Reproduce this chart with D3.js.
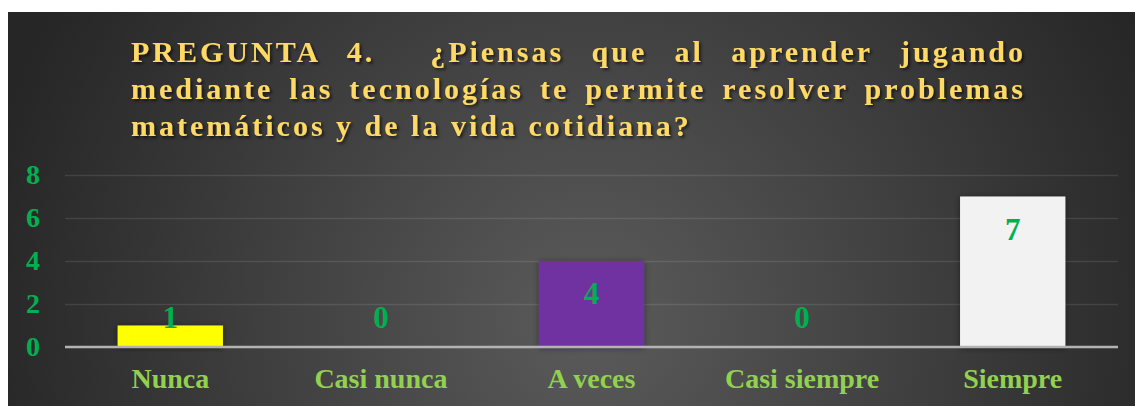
<!DOCTYPE html>
<html>
<head>
<meta charset="utf-8">
<script src="https://cdn.jsdelivr.net/npm/d3@7"></script>
<style>
  html, body { margin: 0; padding: 0; background: #fff; }
  svg { display: block; }
  text { font-family: "Times New Roman", "Liberation Serif", serif; font-weight: bold; }
</style>
</head>
<body>
<div id="chart"></div>
<script>
// ── Datos ──
const categories = ["Nunca", "Casi nunca", "A veces", "Casi siempre", "Siempre"];
const values = [1, 0, 4, 0, 7];
const barColors = ["#ffff00", "#ed7d31", "#7030a0", "#4472c4", "#f2f2f2"];
const yTicks = [0, 2, 4, 6, 8];
const titleLines = [
  "PREGUNTA 4.  ¿Piensas que al aprender jugando",
  "mediante las tecnologías te permite resolver problemas",
  "matemáticos y de la vida cotidiana?"
];

const W = 1135, H = 406;
const svg = d3.select("#chart").append("svg")
  .attr("width", W).attr("height", H);

const defs = svg.append("defs");
const grad = defs.append("radialGradient")
  .attr("id", "bg")
  .attr("gradientUnits", "userSpaceOnUse")
  .attr("cx", 590).attr("cy", 320).attr("r", 620);
grad.append("stop").attr("offset", 0).attr("stop-color", "#5b5b5b");
grad.append("stop").attr("offset", 1).attr("stop-color", "#262626");

const tShadow = defs.append("filter").attr("id", "tshadow")
  .attr("x", "-5%").attr("y", "-20%").attr("width", "110%").attr("height", "150%");
tShadow.append("feDropShadow")
  .attr("dx", 2).attr("dy", 2).attr("stdDeviation", 1.5)
  .attr("flood-color", "#000").attr("flood-opacity", 0.6);

const bShadow = defs.append("filter").attr("id", "bshadow")
  .attr("x", "-20%").attr("y", "-20%").attr("width", "140%").attr("height", "140%");
bShadow.append("feDropShadow")
  .attr("dx", 0).attr("dy", 1).attr("stdDeviation", 3)
  .attr("flood-color", "#000").attr("flood-opacity", 0.45);

// fondo del área del gráfico
svg.append("rect")
  .attr("x", 8).attr("y", 12)
  .attr("width", W - 8).attr("height", H - 12)
  .attr("fill", "url(#bg)");

// ── Escalas ──
const x = d3.scaleBand()
  .domain(categories)
  .range([65, 1118])
  .paddingInner(0.5)
  .paddingOuter(0.25);

const y = d3.scaleLinear()
  .domain([0, 8])
  .range([347, 175]);

// ── Eje Y + líneas de cuadrícula ──
const yAxis = svg.append("g")
  .attr("transform", "translate(65,0)")
  .call(d3.axisLeft(y).tickValues(yTicks).tickSize(-(1118 - 65)).tickPadding(25));
yAxis.select(".domain").remove();
yAxis.selectAll(".tick line")
  .attr("stroke", "rgba(255,255,255,0.1)")
  .attr("stroke-width", 1.5);
yAxis.selectAll(".tick text")
  .attr("fill", "#00b050")
  .style("font-size", "28px");

// ── Barras ──
svg.append("g")
  .selectAll("rect")
  .data(values)
  .join("rect")
  .attr("x", (d, i) => x(categories[i]))
  .attr("y", d => y(d))
  .attr("width", x.bandwidth())
  .attr("height", d => y(0) - y(d))
  .attr("fill", (d, i) => barColors[i])
  .attr("filter", "url(#bshadow)");

// línea base
svg.append("line")
  .attr("x1", 65).attr("x2", 1118)
  .attr("y1", y(0)).attr("y2", y(0))
  .attr("stroke", "#b3b3b3")
  .attr("stroke-width", 2.5);

// ── Eje X (categorías) ──
const xAxis = svg.append("g")
  .attr("transform", `translate(0,${y(0)})`)
  .call(d3.axisBottom(x).tickSize(0));
xAxis.select(".domain").remove();
xAxis.selectAll(".tick text")
  .attr("dy", null)
  .attr("y", 41)
  .attr("fill", "#92d050")
  .style("font-size", "28px");

// ── Etiquetas de valor ──
// dentro del extremo de la barra; las barras bajas llevan la etiqueta sobre la base
svg.append("g")
  .selectAll("text")
  .data(values)
  .join("text")
  .attr("x", (d, i) => x(categories[i]) + x.bandwidth() / 2)
  .attr("y", d => Math.min(y(d) + 43, y(0) - 19))
  .attr("text-anchor", "middle")
  .attr("fill", "#00b050")
  .style("font-size", "31px")
  .text(d => d);

// ── Título (justificado) ──
const tx0 = 131, tx1 = 1023;
const tBase = [62, 99, 136];
const title = svg.append("g").attr("filter", "url(#tshadow)");
titleLines.forEach((line, i) => {
  const t = title.append("text")
    .attr("x", tx0)
    .attr("y", tBase[i])
    .attr("fill", "#ffd966")
    .style("font-size", "30px")
    .style("letter-spacing", "3px")
    .style("white-space", "pre")
    .text(line);
  if (i < titleLines.length - 1) {
    const len = t.node().getComputedTextLength() - 3;
    const gaps = line.split(" ").length - 1;
    const extra = (tx1 - tx0 - len) / gaps;
    t.style("word-spacing", `${extra}px`);
  }
});
</script>
</body>
</html>
